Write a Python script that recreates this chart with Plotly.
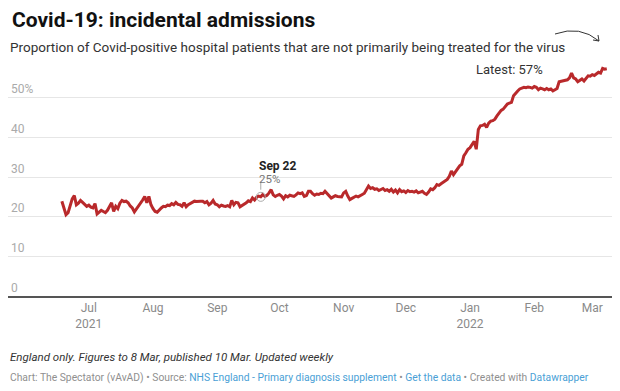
import plotly.graph_objects as go
import pandas as pd

start_date = "2021-06-18"
values = [
    23.9, 22.0, 20.5, 21.0, 22.8, 24.5, 25.3, 23.0, 23.4, 24.1,
    23.6, 23.0, 22.6, 22.9, 22.4, 22.2, 23.3, 20.7, 21.2, 21.6,
    21.3, 21.0, 21.6, 22.4, 23.5, 21.3, 22.6, 22.0, 23.4, 24.1,
    23.8, 23.9, 23.5, 22.7, 22.2, 21.2, 21.9, 22.6, 23.4, 24.2,
    25.1, 23.5, 25.1, 23.0, 22.0, 21.3, 21.1, 21.8, 22.2, 22.6,
    22.5, 22.9, 22.8, 23.3, 23.0, 23.6, 23.1, 23.0, 22.6, 23.5,
    22.5, 23.0, 23.3, 23.6, 23.9, 23.8, 23.9, 23.9, 23.9, 23.5,
    23.8, 23.0, 23.4, 24.1, 23.2, 23.0, 22.5, 22.9, 22.7, 22.6,
    22.8, 22.5, 24.1, 23.0, 23.6, 23.5, 22.5, 22.8, 23.2, 23.5,
    24.0, 23.8, 24.7, 24.2, 24.9, 25.2, 25.0, 25.6, 25.1, 25.4,
    26.0, 26.8, 25.5, 25.1, 25.4, 25.6, 25.2, 24.5, 25.3, 25.0,
    25.4, 25.2, 25.1, 25.5, 26.0, 25.8, 26.0, 25.1, 25.3, 26.4,
    26.4, 25.8, 25.4, 25.7, 25.6, 25.9, 25.8, 26.4, 25.8, 25.3,
    24.7, 25.0, 25.3, 25.1, 25.0, 25.0, 26.0, 26.4, 25.2, 24.3,
    24.6, 25.0, 25.2, 25.0, 25.4, 25.6, 25.9, 26.8, 27.7, 27.1,
    27.3, 26.9, 27.0, 26.6, 26.8, 27.1, 26.6, 26.8, 26.4, 26.9,
    26.2, 26.7, 26.0, 26.8, 26.3, 26.5, 26.1, 26.6, 26.3, 26.4,
    26.2, 26.5, 26.0, 26.2, 26.4, 25.9, 25.6, 26.2, 27.0, 26.8,
    27.3, 28.1, 27.9, 28.3, 28.7, 28.9, 29.4, 30.2, 31.5, 30.6,
    31.4, 32.3, 32.8, 33.2, 35.3, 36.1, 37.0, 37.4, 38.2, 39.0,
    37.0, 42.0, 42.9, 43.0, 43.3, 42.5, 43.6, 44.1, 44.2, 44.6,
    45.4, 46.2, 46.8, 47.1, 47.9, 48.4, 48.6, 48.8, 50.5, 51.2,
    51.7, 52.2, 52.4, 52.6, 52.5, 52.7, 52.6, 52.4, 52.8, 52.6,
    52.0, 52.4, 52.2, 52.0, 52.3, 52.0, 52.2, 51.7, 52.0, 52.3,
    54.0, 54.1, 54.2, 54.3, 54.5, 55.0, 56.2, 55.0, 54.7, 54.0,
    54.3, 54.7, 54.2, 54.9, 55.5, 55.4, 55.8, 55.6, 56.0, 56.4,
    56.2, 57.4, 57.2, 57.3,
]
dates = pd.date_range(start_date, periods=len(values), freq="D")

tick_dates = ["2021-07-01", "2021-08-01", "2021-09-01", "2021-10-01", "2021-11-01",
              "2021-12-01", "2022-01-01", "2022-02-01", "2022-03-01"]
tick_labels = ["Jul<br>2021", "Aug", "Sep", "Oct", "Nov", "Dec", "Jan<br>2022", "Feb", "Mar"]
y_ticks = [0, 10, 20, 30, 40, 50]
y_labels = ["0", "10", "20", "30", "40", "50%"]

highlight_date = "2021-09-22"
highlight_value = 25
latest_value = 57

RED = "#b9292b"
FONT = "Roboto"

# page has an 8px body margin; figure is sized to fit inside the window
OFF = 8
W, H = 620 - OFF, 391 - OFF
PLOT_L, PLOT_R, PLOT_T, PLOT_B = 8, 613, 58, 296  # page pixel coords

fig = go.Figure()
fig.add_trace(go.Scatter(x=dates, y=values, mode="lines",
                         line=dict(color=RED, width=3), hoverinfo="skip"))
fig.add_trace(go.Scatter(x=[highlight_date], y=[highlight_value], mode="markers",
                         marker=dict(symbol="circle-open", size=9, color="#aaaaaa",
                                     line=dict(width=1, color="#aaaaaa")),
                         hoverinfo="skip"))

fig.update_layout(
    width=W, height=H,
    margin=dict(l=PLOT_L - OFF, r=W - (PLOT_R - OFF), t=PLOT_T - OFF, b=H - (PLOT_B - OFF)),
    paper_bgcolor="white", plot_bgcolor="white",
    showlegend=False,
    font=dict(family=FONT, color="#333333"),
    xaxis=dict(range=["2021-05-23", "2022-03-11"], tickvals=tick_dates, ticktext=tick_labels,
               showgrid=False, showline=True, linecolor="#555555", linewidth=1.5,
               ticks="", tickfont=dict(size=12, color="#8a8a8a"), zeroline=False),
    yaxis=dict(range=[0, 60], tickvals=y_ticks, ticktext=y_labels,
               ticklabelposition="inside top", showgrid=True, gridcolor="#e6e6e6",
               gridwidth=1, tickfont=dict(size=12, color="#aaaaaa"), zeroline=False,
               ticks=""),
)


def px(x):
    return (x - PLOT_L) / (PLOT_R - PLOT_L)


def py(y):
    return (PLOT_B - y) / (PLOT_B - PLOT_T)


fig.add_annotation(xref="paper", yref="paper", x=px(10), y=py(20), xanchor="left",
                   yanchor="middle",
                   text="<b>Covid-19: incidental admissions</b>",
                   showarrow=False, font=dict(size=21, color="#111111", family=FONT))
fig.add_annotation(xref="paper", yref="paper", x=px(8), y=py(47), xanchor="left",
                   yanchor="middle",
                   text="Proportion of Covid-positive hospital patients that are not primarily being treated for the virus",
                   showarrow=False, font=dict(size=13.5, color="#333333", family=FONT))

fig.add_annotation(x=highlight_date, y=py(166), yref="paper", xanchor="left", yanchor="middle",
                   xshift=-4, text="<b>Sep 22</b>", showarrow=False,
                   font=dict(size=12, color="#222222"))
fig.add_annotation(x=highlight_date, y=py(179), yref="paper", xanchor="left", yanchor="middle",
                   xshift=-4, text=f"{highlight_value}%", showarrow=False,
                   font=dict(size=11.5, color="#777777"))
fig.add_shape(type="line", x0=highlight_date, x1=highlight_date, y0=26.8, y1=28.6,
              line=dict(color="#aaaaaa", width=1))

fig.add_annotation(x=dates[-1], y=latest_value, xanchor="right", yanchor="middle",
                   xshift=-62, text=f"Latest: {latest_value}%", showarrow=False,
                   font=dict(size=13, color="#333333"))

fig.add_shape(type="path", xref="paper", yref="paper",
              path=f"M {px(555)},{py(34)} Q {px(580)},{py(25)} {px(599)},{py(41)}",
              line=dict(color="#333333", width=1))
fig.add_shape(type="path", xref="paper", yref="paper",
              path=f"M {px(593)},{py(40)} L {px(599)},{py(41)} L {px(598)},{py(35)}",
              line=dict(color="#333333", width=1))

fig.add_annotation(xref="paper", yref="paper", x=px(8), y=py(357), xanchor="left", yanchor="middle",
                   text="<i>England only. Figures to 8 Mar, published 10 Mar. Updated weekly</i>",
                   showarrow=False, font=dict(size=11.5, color="#333333"))
blue = "#4a9fd6"
grey = "#8f8f8f"
footer = (f"<span style='color:{grey}'>Chart: The Spectator (vAvAD) • Source: </span>"
          f"<span style='color:{blue}'>NHS England - Primary diagnosis supplement</span>"
          f"<span style='color:{grey}'> • </span><span style='color:{blue}'>Get the data</span>"
          f"<span style='color:{grey}'> • Created with </span><span style='color:{blue}'>Datawrapper</span>")
fig.add_annotation(xref="paper", yref="paper", x=px(8), y=py(377), xanchor="left", yanchor="middle",
                   text=footer, showarrow=False, font=dict(size=10.3))

fig.write_html("out.html")
